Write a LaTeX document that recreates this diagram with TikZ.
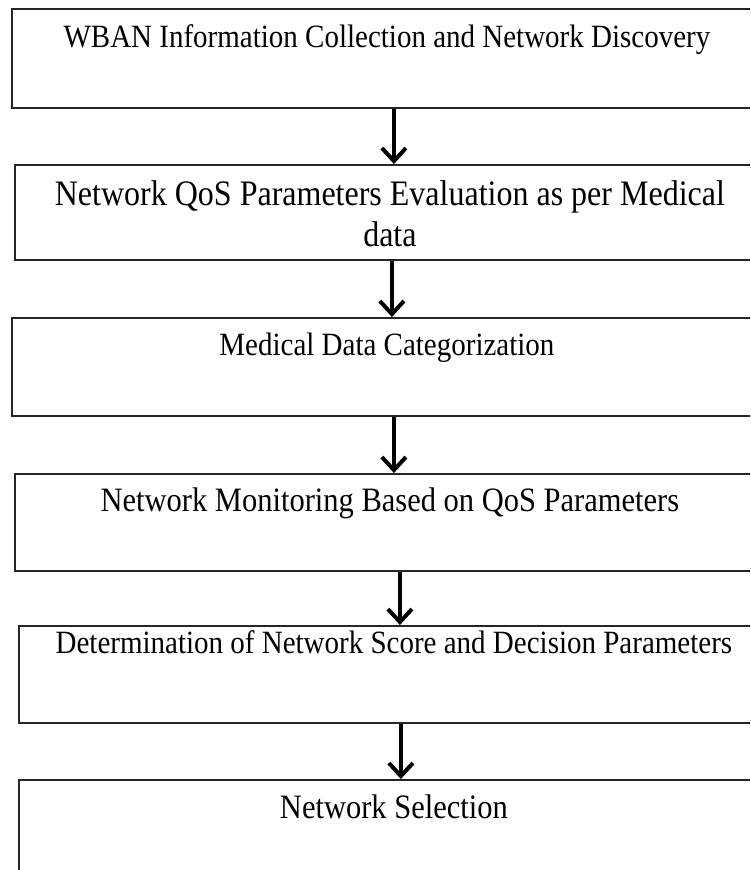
\documentclass[tikz,border=0pt]{standalone}
\usepackage{fontspec}
\setmainfont{Liberation Serif}
\usetikzlibrary{arrows.meta,positioning}

\tikzset{
  stepbox/.style={draw=black!85, line width=1.8pt, anchor=north west, inner sep=0pt,
    minimum width=750pt, minimum height=#1},
  stepbox/.default=97pt,
  steptext/.style={anchor=base, inner sep=0pt, align=center, yscale=1.12,
    font=\fontsize{#1}{36.6pt}\selectfont},
  steptext/.default=29pt,
  flow/.style={line width=4.5pt, -{Straight Barb[length=13pt,width=24pt,line width=4pt]}}
}

\begin{document}
\begin{tikzpicture}[x=1pt,y=1pt]
\useasboundingbox (0,0) rectangle (750,-870);
\clip (0,0) rectangle (750,-870);

% boxes
\node[stepbox=99pt] (b1) at (11,-8) {};
\node[stepbox=95pt] (b2) at (14,-164) {};
\node[stepbox=98pt] (b3) at (11,-317) {};
\node[stepbox=97pt] (b4) at (14,-473) {};
\node[stepbox=97pt] (b5) at (18,-625) {};
\node[stepbox=97pt] (b6) at (18,-779) {};

% texts
\node[steptext] (t1) at ([yshift=-39pt]b1.north) {WBAN Information Collection and Network Discovery};
\node[steptext=32pt] (t2) at ([yshift=-82pt]b2.north) {Network QoS Parameters Evaluation as per Medical\\data};
\node[steptext] (t3) at ([yshift=-38pt]b3.north) {Medical Data Categorization};
\node[steptext=30.5pt] (t4) at ([yshift=-38pt]b4.north) {Network Monitoring Based on QoS Parameters};
\node[steptext] (t5) at ([yshift=-28pt]b5.north) {Determination of Network Score and Decision Parameters};
\node[steptext=30.5pt] (t6) at ([yshift=-39pt]b6.north) {Network Selection};

% arrows
\draw[flow] ([xshift=7pt]b1.south) -- ([xshift=7pt]b1.south |- b2.north);
\draw[flow] ([xshift=2pt]b2.south) -- ([xshift=2pt]b2.south |- b3.north);
\draw[flow] ([xshift=7pt]b3.south) -- ([xshift=7pt]b3.south |- b4.north);
\draw[flow] ([xshift=10pt]b4.south) -- ([xshift=10pt]b4.south |- b5.north);
\draw[flow] ([xshift=7pt]b5.south) -- ([xshift=7pt]b5.south |- b6.north);
\end{tikzpicture}
\end{document}
